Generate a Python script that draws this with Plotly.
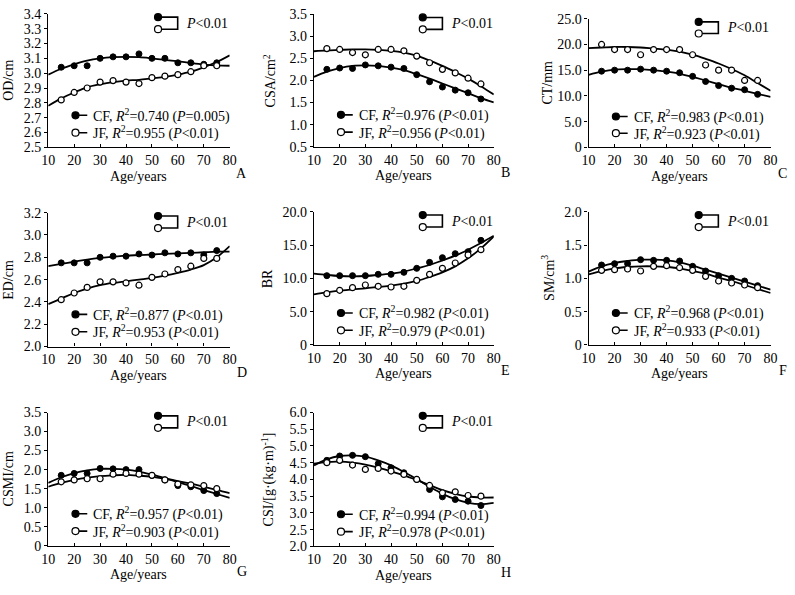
import plotly.graph_objects as go

# ages of the measured groups and of the drawn fit curves
AGES = [15, 20, 25, 30, 35, 40, 45, 50, 55, 60, 65, 70, 75]
FIT_AGES = [10, 15, 20, 25, 30, 35, 40, 45, 50, 55, 60, 65, 70, 75, 80]
X_TICKS = [10, 20, 30, 40, 50, 60, 70, 80]

# A  OD/cm
OD_CF = [3.04, 3.05, 3.05, 3.10, 3.11, 3.11, 3.13, 3.10, 3.10, 3.07, 3.07, 3.06, 3.07]
OD_JF = [2.82, 2.87, 2.90, 2.94, 2.95, 2.94, 2.93, 2.97, 2.98, 2.99, 3.01, 3.05, 3.05]
OD_CF_FIT = [2.99, 3.03, 3.06, 3.085, 3.10, 3.108, 3.11, 3.108, 3.10, 3.09, 3.08, 3.068, 3.058, 3.052, 3.05]
OD_JF_FIT = [2.78, 2.83, 2.87, 2.905, 2.925, 2.94, 2.95, 2.955, 2.965, 2.975, 2.99, 3.01, 3.04, 3.075, 3.12]
OD_TICKS = [2.5, 2.6, 2.7, 2.8, 2.9, 3.0, 3.1, 3.2, 3.3, 3.4]
OD_LABELS = ["2.5", "2.6", "2.7", "2.8", "2.9", "3.0", "3.1", "3.2", "3.3", "3.4"]

# B  CSA/cm2
CSA_CF = [2.25, 2.28, 2.27, 2.35, 2.33, 2.30, 2.27, 2.13, 1.97, 1.85, 1.78, 1.72, 1.58]
CSA_JF = [2.72, 2.70, 2.63, 2.58, 2.70, 2.70, 2.67, 2.55, 2.40, 2.25, 2.17, 2.05, 1.92]
CSA_CF_FIT = [2.08, 2.20, 2.28, 2.33, 2.34, 2.33, 2.29, 2.23, 2.14, 2.04, 1.93, 1.82, 1.71, 1.60, 1.50]
CSA_JF_FIT = [2.66, 2.68, 2.69, 2.70, 2.70, 2.69, 2.67, 2.63, 2.56, 2.45, 2.33, 2.19, 2.04, 1.87, 1.68]
CSA_TICKS = [0.5, 1.0, 1.5, 2.0, 2.5, 3.0, 3.5]
CSA_LABELS = ["0.5", "1.0", "1.5", "2.0", "2.5", "3.0", "3.5"]

# C  CT/mm
CT_CF = [14.8, 15.0, 15.0, 15.2, 15.0, 14.8, 14.5, 13.8, 12.8, 12.0, 11.5, 11.2, 10.3]
CT_JF = [20.0, 19.0, 19.0, 18.0, 19.0, 19.0, 19.0, 18.0, 16.0, 15.0, 15.0, 13.0, 13.0]
CT_CF_FIT = [14.1, 14.7, 15.1, 15.2, 15.2, 15.0, 14.7, 14.3, 13.7, 13.0, 12.3, 11.6, 11.0, 10.4, 9.8]
CT_JF_FIT = [19.3, 19.4, 19.5, 19.5, 19.4, 19.2, 19.0, 18.6, 18.0, 17.2, 16.3, 15.2, 14.0, 12.5, 11.0]
CT_TICKS = [0, 5, 10, 15, 20, 25]
CT_LABELS = ["0", "5.0", "10.0", "15.0", "20.0", "25.0"]

# D  ED/cm
ED_CF = [2.75, 2.75, 2.75, 2.80, 2.81, 2.81, 2.83, 2.82, 2.84, 2.83, 2.84, 2.82, 2.86]
ED_JF = [2.42, 2.48, 2.53, 2.58, 2.58, 2.57, 2.55, 2.62, 2.65, 2.69, 2.72, 2.79, 2.79]
ED_CF_FIT = [2.72, 2.74, 2.76, 2.78, 2.795, 2.805, 2.815, 2.82, 2.825, 2.83, 2.835, 2.84, 2.845, 2.85, 2.85]
ED_JF_FIT = [2.38, 2.43, 2.48, 2.52, 2.55, 2.57, 2.585, 2.60, 2.615, 2.635, 2.66, 2.69, 2.73, 2.80, 2.90]
ED_TICKS = [2.0, 2.2, 2.4, 2.6, 2.8, 3.0, 3.2]
ED_LABELS = ["2.0", "2.2", "2.4", "2.6", "2.8", "3.0", "3.2"]

# E  BR
BR_CF = [10.4, 10.4, 10.4, 10.4, 10.6, 10.6, 10.9, 11.5, 12.4, 13.1, 13.7, 14.0, 15.7]
BR_JF = [7.7, 8.2, 8.6, 9.0, 8.8, 8.7, 8.8, 9.7, 10.6, 11.5, 12.3, 13.5, 14.3]
BR_CF_FIT = [10.7, 10.5, 10.35, 10.3, 10.35, 10.5, 10.7, 11.0, 11.5, 12.0, 12.7, 13.4, 14.3, 15.3, 16.4]
BR_JF_FIT = [7.6, 7.9, 8.15, 8.35, 8.5, 8.7, 8.9, 9.2, 9.6, 10.2, 10.9, 11.8, 13.0, 14.5, 16.3]
BR_TICKS = [0, 5, 10, 15, 20]
BR_LABELS = ["0", "5.0", "10.0", "15.0", "20.0"]

# F  SM/cm3
SM_CF = [1.20, 1.22, 1.22, 1.28, 1.27, 1.27, 1.26, 1.18, 1.11, 1.04, 1.00, 0.96, 0.89]
SM_JF = [1.12, 1.13, 1.14, 1.11, 1.18, 1.19, 1.16, 1.12, 1.03, 0.96, 0.93, 0.90, 0.86]
SM_CF_FIT = [1.10, 1.18, 1.23, 1.26, 1.28, 1.28, 1.27, 1.24, 1.19, 1.13, 1.07, 1.01, 0.95, 0.89, 0.83]
SM_JF_FIT = [1.06, 1.11, 1.15, 1.17, 1.18, 1.18, 1.17, 1.15, 1.11, 1.07, 1.01, 0.96, 0.90, 0.84, 0.78]
SM_TICKS = [0, 0.5, 1.0, 1.5, 2.0]
SM_LABELS = ["0", "0.5", "1.0", "1.5", "2.0"]

# G  CSMI/cm
CSMI_CF = [1.85, 1.90, 1.90, 2.03, 2.02, 2.00, 2.00, 1.85, 1.73, 1.58, 1.55, 1.45, 1.37]
CSMI_JF = [1.68, 1.73, 1.76, 1.76, 1.88, 1.90, 1.88, 1.85, 1.73, 1.62, 1.60, 1.58, 1.50]
CSMI_CF_FIT = [1.65, 1.80, 1.91, 1.98, 2.02, 2.02, 2.00, 1.95, 1.87, 1.78, 1.67, 1.57, 1.46, 1.36, 1.26]
CSMI_JF_FIT = [1.55, 1.65, 1.73, 1.79, 1.83, 1.85, 1.86, 1.84, 1.81, 1.76, 1.70, 1.63, 1.55, 1.47, 1.38]
CSMI_TICKS = [0, 0.5, 1.0, 1.5, 2.0, 2.5, 3.0, 3.5]
CSMI_LABELS = ["0", "0.5", "1.0", "1.5", "2.0", "2.5", "3.0", "3.5"]

# H  CSI
CSI_CF = [4.57, 4.70, 4.72, 4.68, 4.47, 4.35, 4.20, 4.00, 3.70, 3.48, 3.40, 3.35, 3.22]
CSI_JF = [4.50, 4.57, 4.43, 4.30, 4.33, 4.25, 4.15, 4.00, 3.82, 3.60, 3.63, 3.52, 3.50]
CSI_CF_FIT = [4.42, 4.60, 4.70, 4.72, 4.68, 4.57, 4.42, 4.22, 4.01, 3.78, 3.57, 3.41, 3.30, 3.26, 3.30]
CSI_JF_FIT = [4.47, 4.52, 4.53, 4.50, 4.44, 4.35, 4.24, 4.12, 3.98, 3.83, 3.68, 3.57, 3.49, 3.46, 3.46]
CSI_TICKS = [2.0, 2.5, 3.0, 3.5, 4.0, 4.5, 5.0, 5.5, 6.0]
CSI_LABELS = ["2.0", "2.5", "3.0", "3.5", "4.0", "4.5", "5.0", "5.5", "6.0"]

R2_CF = ["0.740", "0.976", "0.983", "0.877", "0.982", "0.968", "0.957", "0.994"]
R2_JF = ["0.955", "0.956", "0.923", "0.953", "0.979", "0.933", "0.903", "0.978"]
P_CF = ["=0.005", "&lt;0.01", "&lt;0.01", "&lt;0.01", "&lt;0.01", "&lt;0.01", "&lt;0.01", "&lt;0.01"]
P_JF = ["&lt;0.01"] * 8

W, H = 795, 595
FONT = "Liberation Serif"

# panel: letter, y title, data, ticks, x pixel span, y pixel span, y title offset
panels = [
    ("A", "OD/cm", OD_CF, OD_JF, OD_CF_FIT, OD_JF_FIT, OD_TICKS, OD_LABELS, (42, 226.7), (7, 144), -40),
    ("B", "CSA/cm<sup>2</sup>", CSA_CF, CSA_JF, CSA_CF_FIT, CSA_JF_FIT, CSA_TICKS, CSA_LABELS, (312.5, 495.5), (7.3, 143.3), -44),
    ("C", "CT/mm", CT_CF, CT_JF, CT_CF_FIT, CT_JF_FIT, CT_TICKS, CT_LABELS, (592, 777.3), (12, 144), -42),
    ("D", "ED/cm", ED_CF, ED_JF, ED_CF_FIT, ED_JF_FIT, ED_TICKS, ED_LABELS, (42, 226.7), (211, 348.3), -40),
    ("E", "BR", BR_CF, BR_JF, BR_CF_FIT, BR_JF_FIT, BR_TICKS, BR_LABELS, (312.5, 495.5), (210, 346.7), -47),
    ("F", "SM/cm<sup>3</sup>", SM_CF, SM_JF, SM_CF_FIT, SM_JF_FIT, SM_TICKS, SM_LABELS, (592, 777.3), (210, 346.7), -40),
    ("G", "CSMI/cm", CSMI_CF, CSMI_JF, CSMI_CF_FIT, CSMI_JF_FIT, CSMI_TICKS, CSMI_LABELS, (42, 226.7), (416, 552.7), -40),
    ("H", "CSI/[g·(kg·m)<sup>-1</sup>]", CSI_CF, CSI_JF, CSI_CF_FIT, CSI_JF_FIT, CSI_TICKS, CSI_LABELS, (312.5, 495.5), (416, 553.3), -46),
]

fig = go.Figure()
annotations = []
layout_axes = {}
txt = dict(family=FONT, size=14, color="black")

for i, (letter, ytitle, cf, jf, cf_fit, jf_fit, yticks, ylabels, xpx, ypx, ytoff) in enumerate(panels):
    n = "" if i == 0 else str(i + 1)
    xa, ya = "x" + n, "y" + n
    xdom = [xpx[0] / W, xpx[1] / W]
    ydom = [1 - ypx[1] / H, 1 - ypx[0] / H]
    ymin, ymax = yticks[0], yticks[-1]

    for fit in (cf_fit, jf_fit):
        fig.add_trace(go.Scatter(x=FIT_AGES, y=fit, mode="lines", xaxis=xa, yaxis=ya,
                                 line=dict(color="black", width=1.8, shape="spline"),
                                 showlegend=False, hoverinfo="skip"))
    fig.add_trace(go.Scatter(x=AGES, y=cf, mode="markers", xaxis=xa, yaxis=ya,
                             marker=dict(color="black", size=6, line=dict(color="black", width=1)),
                             showlegend=False))
    fig.add_trace(go.Scatter(x=AGES, y=jf, mode="markers", xaxis=xa, yaxis=ya,
                             marker=dict(color="white", size=6, line=dict(color="black", width=1.2)),
                             showlegend=False))

    # legend keys, placed by fractions of the panel converted to axis units
    px_x = 70 / (xpx[1] - xpx[0])
    def fx(frac, shift=0):
        return 10 + 70 * frac + shift * px_x
    def fy(frac):
        return ymin + (ymax - ymin) * frac
    tx, t1, t2 = 0.605, 0.975, 0.885
    bx, b1, b2 = 0.15, 0.24, 0.11
    fig.add_trace(go.Scatter(
        x=[fx(tx), fx(tx, 20), fx(tx, 20), fx(tx), None, fx(bx), fx(bx, 12), None, fx(bx), fx(bx, 12)],
        y=[fy(t1), fy(t1), fy(t2), fy(t2), None, fy(b1), fy(b1), None, fy(b2), fy(b2)],
        mode="lines", xaxis=xa, yaxis=ya, cliponaxis=False,
        line=dict(color="black", width=1.6), showlegend=False, hoverinfo="skip"))
    fig.add_trace(go.Scatter(
        x=[fx(tx), fx(tx), fx(bx), fx(bx)], y=[fy(t1), fy(t2), fy(b1), fy(b2)],
        mode="markers", xaxis=xa, yaxis=ya, cliponaxis=False,
        marker=dict(color=["black", "white", "black", "white"], size=7,
                    line=dict(color="black", width=1.2)),
        showlegend=False, hoverinfo="skip"))

    layout_axes["xaxis" + n] = dict(
        domain=xdom, anchor=ya, range=[10, 80], tickvals=X_TICKS,
        showline=True, linecolor="black", linewidth=1.2,
        ticks="inside", ticklen=3, tickcolor="black", showgrid=False, zeroline=False,
        tickfont=txt,
    )
    layout_axes["yaxis" + n] = dict(
        domain=ydom, anchor=xa, range=[ymin, ymax],
        tickvals=yticks, ticktext=ylabels,
        showline=True, linecolor="black", linewidth=1.2,
        ticks="outside", ticklen=3, tickcolor="black", showgrid=False, zeroline=False,
        tickfont=txt,
    )

    xr, yr = xa + " domain", ya + " domain"
    annotations += [
        dict(text="Age/years", xref=xr, yref=yr, x=0.5, y=0, yshift=-29,
             showarrow=False, font=txt, yanchor="middle"),
        dict(text=letter, xref=xr, yref=yr, x=1, y=0, xshift=12, yshift=-26,
             showarrow=False, font=txt, xanchor="center", yanchor="middle"),
        dict(text=ytitle, xref=xr, yref=yr, x=0, y=0.5, xshift=ytoff, textangle=-90,
             showarrow=False, font=txt, xanchor="center", yanchor="middle"),
        dict(text="<i>P</i>&lt;0.01", xref=xr, yref=yr, x=tx, xshift=26,
             y=(t1 + t2) / 2, showarrow=False, font=txt, xanchor="left", yanchor="middle"),
        dict(text=f"CF, <i>R</i><sup>2</sup>={R2_CF[i]} (<i>P</i>{P_CF[i]})", xref=xr, yref=yr,
             x=bx, xshift=16, y=b1, showarrow=False, font=txt, xanchor="left", yanchor="middle"),
        dict(text=f"JF, <i>R</i><sup>2</sup>={R2_JF[i]} (<i>P</i>{P_JF[i]})", xref=xr, yref=yr,
             x=bx, xshift=16, y=b2, showarrow=False, font=txt, xanchor="left", yanchor="middle"),
    ]

fig.update_layout(
    width=W, height=H,
    margin=dict(l=0, r=0, t=0, b=0),
    paper_bgcolor="white", plot_bgcolor="white",
    showlegend=False,
    annotations=annotations,
    **layout_axes,
)

fig.write_html("out.html", config={"displayModeBar": False},
               post_script="document.body.style.margin='0';")
